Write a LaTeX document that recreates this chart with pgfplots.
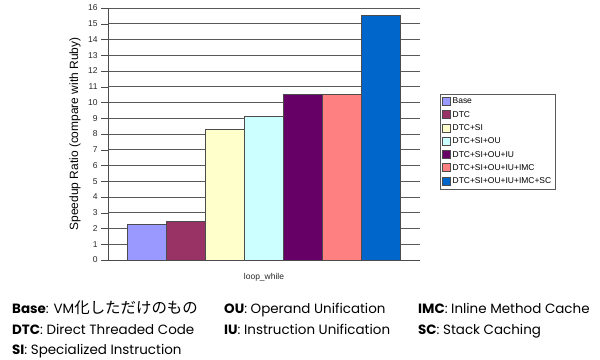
\documentclass[border=0pt]{standalone}
\usepackage{fontspec}
\usepackage{pgfplots}
\pgfplotsset{compat=1.18}
\setmainfont{Liberation Sans}
\newfontfamily\foot{Poppins}
\newfontfamily\cjk{Noto Sans CJK JP}
\definecolor{cA}{HTML}{9999FF}
\definecolor{cB}{HTML}{993366}
\definecolor{cC}{HTML}{FFFFCC}
\definecolor{cD}{HTML}{CCFFFF}
\definecolor{cE}{HTML}{660066}
\definecolor{cF}{HTML}{FF8080}
\definecolor{cG}{HTML}{0066CC}
\begin{document}
\begin{tikzpicture}
\useasboundingbox (0,0) rectangle (600bp,-360bp);
\begin{axis}[
  at={(108bp,-260bp)}, anchor=south west,
  scale only axis, width=312bp, height=252bp,
  xmin=-4, xmax=4, ymin=0, ymax=16,
  ytick={0,1,...,16}, xtick={0}, xticklabels={loop\_while},
  axis x line*=bottom, axis y line*=left,
  axis line style={gray!60!black,-},
  ymajorgrids, grid style={gray!70!black, line width=0.6pt},
  major x tick style={draw=none},
  major y tick style={gray!60!black},
  tick align=outside, major tick length=7bp,
  /pgf/number format/assume math mode=true,
  tick label style={font=\fontsize{8.5}{9}\selectfont, text=black!85},
  xticklabel style={yshift=-3bp},
  ybar=0pt, bar width=39bp,
  ylabel={Speedup Ratio (compare with Ruby)},
  ylabel style={font=\fontsize{12}{12}\selectfont, at={(axis description cs:-0.106,0.5)}, anchor=center},
  legend style={at={(axis description cs:1.064,0.659)}, anchor=north west,
    font=\fontsize{8.5}{9}\selectfont, draw=gray!70!black, inner sep=2bp,
    row sep=1.9bp, cells={anchor=west}},
  legend image code/.code={\draw[#1] (0bp,-3.5bp) rectangle (8bp,4.5bp);},
  every axis plot/.append style={draw=black!70, line width=0.5pt},
]
\addplot[fill=cA] coordinates {(0,2.26)};
\addplot[fill=cB] coordinates {(0,2.48)};
\addplot[fill=cC] coordinates {(0,8.30)};
\addplot[fill=cD] coordinates {(0,9.14)};
\addplot[fill=cE] coordinates {(0,10.54)};
\addplot[fill=cF] coordinates {(0,10.50)};
\addplot[fill=cG] coordinates {(0,15.53)};
\legend{Base,DTC,DTC+SI,DTC+SI+OU,DTC+SI+OU+IU,DTC+SI+OU+IU+IMC,DTC+SI+OU+IU+IMC+SC}
\end{axis}
\begin{scope}[every node/.style={anchor=base west, inner sep=0pt, font=\foot\fontsize{13.5}{14}\selectfont}]
\node at (12bp,-313bp) {\textbf{Base}: VM{\cjk\fontsize{15.5}{16}\selectfont 化しただけのもの}};
\node at (12bp,-334bp) {\textbf{DTC}: Direct Threaded Code};
\node at (12bp,-354bp) {\textbf{SI}: Specialized Instruction};
\node at (224bp,-313bp) {\textbf{OU}: Operand Unification};
\node at (224bp,-334bp) {\textbf{IU}: Instruction Unification};
\node at (418bp,-313bp) {\textbf{IMC}: Inline Method Cache};
\node at (418bp,-334bp) {\textbf{SC}: Stack Caching};
\end{scope}
\end{tikzpicture}
\end{document}
